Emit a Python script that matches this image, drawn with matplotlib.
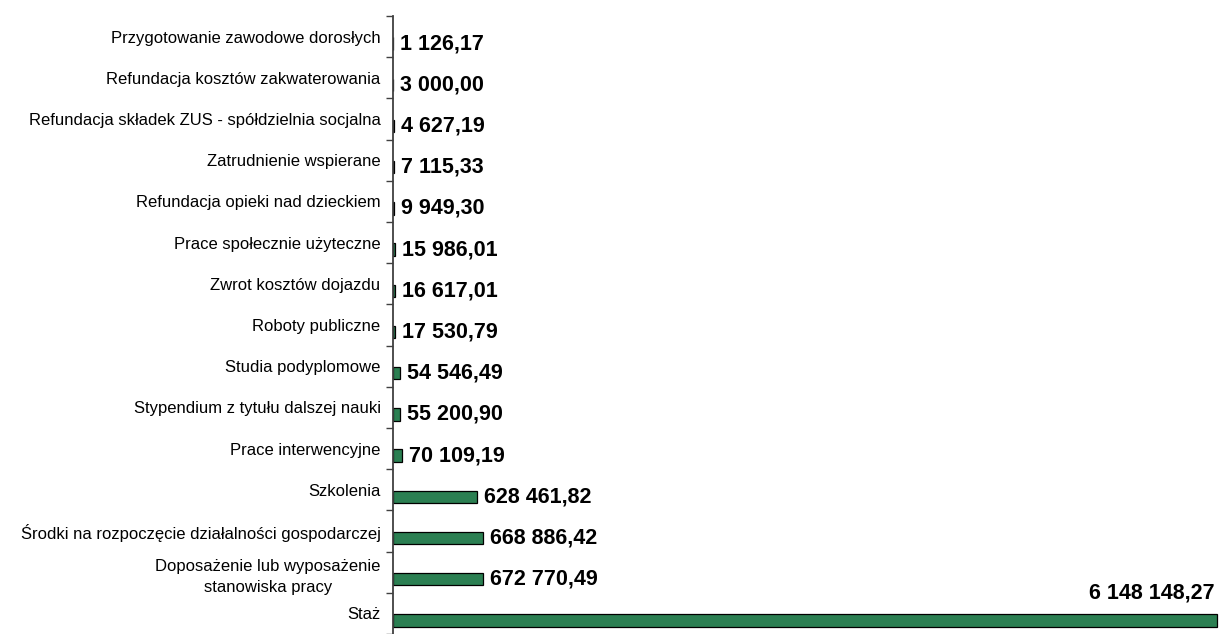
import matplotlib.pyplot as plt

plt.rcParams['font.family'] = ['Liberation Sans', 'DejaVu Sans']

# bottom to top, as drawn
categories = [
    "Staż",
    "Doposażenie lub wyposażenie\nstanowiska pracy",
    "Środki na rozpoczęcie działalności gospodarczej",
    "Szkolenia",
    "Prace interwencyjne",
    "Stypendium z tytułu dalszej nauki",
    "Studia podyplomowe",
    "Roboty publiczne",
    "Zwrot kosztów dojazdu",
    "Prace społecznie użyteczne",
    "Refundacja opieki nad dzieckiem",
    "Zatrudnienie wspierane",
    "Refundacja składek ZUS - spółdzielnia socjalna",
    "Refundacja kosztów zakwaterowania",
    "Przygotowanie zawodowe dorosłych",
]
values = [6148148.27, 672770.49, 668886.42, 628461.82, 70109.19, 55200.90,
          54546.49, 17530.79, 16617.01, 15986.01, 9949.30, 7115.33,
          4627.19, 3000.00, 1126.17]


def fmt(v):
    s = f"{v:,.2f}"
    return s.replace(",", " ").replace(".", ",")


fig = plt.figure(figsize=(12.21, 6.34), dpi=100)
# axes: left edge at x=393px, top at y=16px
ax = fig.add_axes([393 / 1221, 0.0, (1221 - 393) / 1221, (634 - 16) / 634])

pos = list(range(len(categories)))
bar_off = -0.17
ax.barh([p + bar_off for p in pos], values, height=0.3,
        color="#2b7f52", edgecolor="black", linewidth=0.9)

xmax = values[0] * (1221 - 393) / 824
ax.set_xlim(0, xmax)
ax.set_ylim(-0.42, len(categories) - 0.5)

for p, v in zip(pos, values):
    if v == max(values):
        ax.annotate(fmt(v), (v, p + bar_off), xytext=(-2, 12),
                    textcoords="offset points", ha="right", va="bottom",
                    fontsize=15.5, fontweight="bold")
    else:
        ax.annotate(fmt(v), (v, p + bar_off), xytext=(5, 0),
                    textcoords="offset points", ha="left", va="center",
                    fontsize=15.5, fontweight="bold")

ax.set_yticks(pos)
ax.set_yticklabels(categories, fontsize=12, multialignment="center",
                   linespacing=1.5)
ax.tick_params(axis="y", which="major", length=0, pad=9)
ax.set_yticks([p - 0.5 for p in pos] + [len(categories) - 0.5], minor=True)
ax.tick_params(axis="y", which="minor", length=5, width=1, color="#404040")
ax.set_xticks([])

for side in ["top", "right", "bottom"]:
    ax.spines[side].set_visible(False)
ax.spines["left"].set_color("#404040")
ax.spines["left"].set_linewidth(1.3)

fig.savefig("out.png", dpi=100)
